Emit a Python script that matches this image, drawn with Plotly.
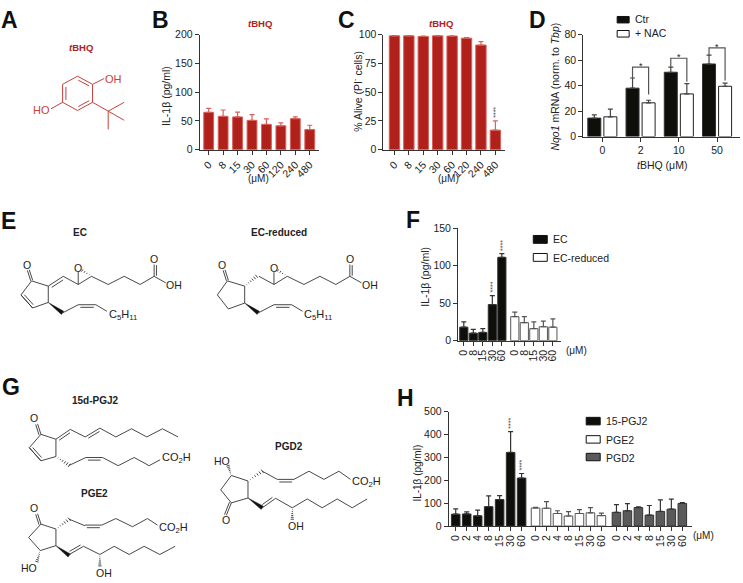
import plotly.graph_objects as go

W, H = 743, 583
FONT = "Liberation Sans"
RED = "#b0211b"
RED_EDGE = "#d9605a"
BLACK = "#0e0e0a"
GREY = "#5a5a5a"
INK = "#222222"
AXIS = "#333333"

# ---------- data ----------
doses_tbhq = ["0", "8", "15", "30", "60", "120", "240", "480"]
b_values = [65, 58, 57, 51, 44, 41.5, 54, 35]
b_upper = [72, 69, 65.5, 61, 53.5, 46.5, 57, 42.5]
c_values = [99, 99, 98.5, 99, 98.8, 97, 91, 17]
c_upper = [99.3, 99.3, 98.8, 99.3, 99.1, 97.4, 94, 25]

d_doses = ["0", "2", "10", "50"]
d_ctr = [14.5, 38, 50.5, 57]
d_ctr_upper = [17, 46, 54.5, 64]
d_nac = [15.5, 26.5, 33.5, 39.5]
d_nac_upper = [21.5, 28.5, 41.5, 42]
d_bracket_top = [54.6, 61.5, 69.7]
d_bracket_left = [46, 54.5, 64]
d_bracket_right = [33, 43, 44]

f_doses = ["0", "8", "15", "30", "60"]
f_ec = [18, 10, 11, 48, 111]
f_ec_upper = [25, 15, 16, 60, 116]
f_red = [32, 24, 16, 18.5, 18]
f_red_upper = [38, 32, 25, 26, 29]

h_doses = ["0", "2", "4", "8", "15", "30", "60"]
h_pgj = [52, 53, 45, 85, 116, 322, 210]
h_pgj_upper = [75, 62, 70, 132, 133, 413, 230]
h_pge = [79, 78, 55, 44, 55, 58, 46]
h_pge_upper = [82, 107, 67, 63, 72, 81, 57]
h_pgd = [60, 67, 81, 48, 64, 74, 99]
h_pgd_upper = [94, 98, 84, 90, 115, 118, 103]


def X(px):
    return px / W


def Y(py):
    return 1 - py / H


fig = go.Figure()
shapes = []
annos = []


def text(x, y, s, size=10.5, color=INK, bold=False, angle=0, xanchor="center", yanchor="middle"):
    if bold:
        s = "<b>" + s + "</b>"
    annos.append(dict(x=X(x), y=Y(y), xref="paper", yref="paper", text=s, showarrow=False,
                      font=dict(family=FONT, size=size, color=color), textangle=angle,
                      xanchor=xanchor, yanchor=yanchor, borderpad=0, borderwidth=0))


def setup_axes(n, xpx, ypx, xrange, yrange, tickvals, ticktext, yticks, angle=0, tfs=10.5):
    suffix = "" if n == 1 else str(n)
    common = dict(showline=True, linecolor=AXIS, linewidth=1, ticks="outside", ticklen=4,
                  tickwidth=1, tickcolor=AXIS, showgrid=False, zeroline=False,
                  tickfont=dict(family=FONT, size=tfs, color=INK), fixedrange=True)
    fig.update_layout(**{
        "xaxis" + suffix: dict(domain=[X(xpx[0]), X(xpx[1])], range=xrange, anchor="y" + suffix,
                               tickmode="array", tickvals=tickvals, ticktext=ticktext,
                               tickangle=angle, **common),
        "yaxis" + suffix: dict(domain=[Y(ypx[1]), Y(ypx[0])], range=yrange, anchor="x" + suffix,
                               tickmode="array", tickvals=yticks, **common),
    })


def bars(n, xs, vals, uppers, fill, edge, err, width, edge_w=1):
    suffix = "" if n == 1 else str(n)
    fig.add_trace(go.Bar(
        x=xs, y=vals, width=width, xaxis="x" + suffix, yaxis="y" + suffix, showlegend=False,
        marker=dict(color=fill, line=dict(color=edge, width=edge_w)),
        error_y=dict(type="data", symmetric=False,
                     array=[u - v for u, v in zip(uppers, vals)],
                     arrayminus=[0] * len(vals), color=err, thickness=1.2, width=2.5),
    ))


def stars(n, x, y, s="****"):
    suffix = "" if n == 1 else str(n)
    annos.append(dict(x=x, y=y, xref="x" + suffix, yref="y" + suffix, text=s, showarrow=False,
                      textangle=-90, yanchor="bottom", xanchor="center", yshift=1,
                      font=dict(family=FONT, size=7, color="#444444")))


def swatch(x0, x1, y0, y1, fill, line="#111111"):
    shapes.append(dict(type="rect", xref="paper", yref="paper", x0=X(x0), x1=X(x1), y0=Y(y0), y1=Y(y1),
                       fillcolor=fill, line=dict(color=line, width=1)))


# ---------- panel B ----------
setup_axes(1, (199, 318), (29.3, 146.7), [-0.62, 7.61], [0, 200],
           list(range(8)), doses_tbhq, [0, 50, 100, 150, 200], angle=-45)
bars(1, list(range(8)), b_values, b_upper, RED, RED_EDGE, RED_EDGE, 0.68)

# ---------- panel C ----------
setup_axes(2, (383, 504.7), (29.3, 146.7), [-0.76, 7.67], [0, 100],
           list(range(8)), doses_tbhq, [0, 25, 50, 75, 100], angle=-45)
bars(2, list(range(8)), c_values, c_upper, RED, RED_EDGE, RED_EDGE, 0.72)
stars(2, 7, c_upper[7])

# ---------- panel D ----------
d_idx = list(range(4))
pair = 0.21
setup_axes(3, (583, 740), (29.3, 133.3), [-0.5, 3.6], [0, 80],
           d_idx, d_doses, [0, 20, 40, 60, 80])
bars(3, [i - pair for i in d_idx], d_ctr, d_ctr_upper, BLACK, "#333333", "#444444", 0.34)
bars(3, [i + pair for i in d_idx], d_nac, d_nac_upper, "white", "#222222", "#444444", 0.34)
for g, (top, left, right) in enumerate(zip(d_bracket_top, d_bracket_left, d_bracket_right), start=1):
    xl, xr = g - pair, g + pair
    shapes.append(dict(type="path", xref="x3", yref="y3",
                       path=f"M {xl} {left} L {xl} {top} L {xr} {top} L {xr} {right}",
                       line=dict(color="#555555", width=1.2)))
    annos.append(dict(x=g, y=top, xref="x3", yref="y3", text="*", showarrow=False, yanchor="middle",
                      yshift=1, font=dict(family=FONT, size=9, color=INK)))

# ---------- panel F ----------
f_x1 = list(range(5))
f_x2 = [i + 5.36 for i in range(5)]
setup_axes(4, (457.7, 561), (226.7, 341.7), [-0.6, 10.24], [0, 150],
           f_x1 + f_x2, f_doses + f_doses, [0, 50, 100, 150], angle=-90)
bars(4, f_x1, f_ec, f_ec_upper, BLACK, "#333333", "#333333", 0.86)
bars(4, f_x2, f_red, f_red_upper, "white", "#555555", "#555555", 0.86)
stars(4, f_x1[3], f_ec_upper[3])
stars(4, f_x1[4], f_ec_upper[4])

# ---------- panel H ----------
h_x1 = list(range(7))
h_x2 = [i + 7.27 for i in range(7)]
h_x3 = [i + 14.64 for i in range(7)]
setup_axes(5, (448.3, 691.7), (414.3, 531), [-0.64, 21.5], [0, 500],
           h_x1 + h_x2 + h_x3, h_doses * 3, [0, 100, 200, 300, 400, 500], angle=-90)
bars(5, h_x1, h_pgj, h_pgj_upper, BLACK, "#333333", "#333333", 0.78)
bars(5, h_x2, h_pge, h_pge_upper, "white", "#555555", "#555555", 0.78)
bars(5, h_x3, h_pgd, h_pgd_upper, GREY, "#333333", "#333333", 0.78)
stars(5, h_x1[5], h_pgj_upper[5])
stars(5, h_x1[6], h_pgj_upper[6])

# ---------- panel letters ----------
for letter, x, y in [("A", 9, 14), ("B", 160, 14), ("C", 346, 14), ("D", 537, 14),
                     ("E", 8, 220), ("F", 413, 219), ("G", 10, 389), ("H", 405, 400)]:
    text(x, y, letter, size=23, color="#111111", bold=True)

# ---------- axis texts ----------
text(259, 18, "<i>t</i>BHQ", size=9.5, color=RED, bold=True)
text(441, 18, "<i>t</i>BHQ", size=9.5, color=RED, bold=True)
text(165, 92, "IL-1β (pg/ml)", angle=-90)
text(356, 87, "% Alive (PI<sup>-</sup> cells)", angle=-90)
text(555, 82, "<i>Nqo1</i> mRNA (norm. to <i>Tbp</i>)", angle=-90)
text(425, 276, "IL-1β (pg/ml)", angle=-90)
text(417, 477, "IL-1β (pg/ml)", angle=-90, size=10)
text(258, 176, "(μM)", size=10)
text(448, 176, "(μM)", size=10)
text(662, 162, "<i>t</i>BHQ (μM)")
text(576, 352, "(μM)", size=10)
text(703, 541, "(μM)", size=10)

# ---------- legends ----------
swatch(617, 629, 10.7, 17.3, BLACK)
text(635, 13.3, "Ctr", xanchor="left")
swatch(617, 629, 25, 31.7, "white")
text(635, 27.7, "+ NAC", xanchor="left")
swatch(533, 547, 234.3, 242.3, BLACK)
text(552.7, 238, "EC", xanchor="left")
swatch(533, 547, 252.7, 260.7, "white")
text(552.7, 257, "EC-reduced", xanchor="left")
swatch(586, 600, 420, 427.7, BLACK)
text(605.7, 423.7, "15-PGJ2", xanchor="left")
swatch(586, 600, 438.7, 446.3, "white")
text(605.7, 443, "PGE2", xanchor="left")
swatch(586, 600, 456.7, 464.3, GREY)
text(605.7, 461, "PGD2", xanchor="left")


# ---------- chemical structures (drawn as page-space line art; inputs are zoomed px) ----------
class Mol:
    def __init__(self, ox, oy, color="#333333", lw=0.9):
        self.ox, self.oy, self.color, self.lw = ox, oy, color, lw

    def p(self, x, y):
        return (self.ox + x / 3, self.oy + y / 3)

    def line(self, *pts):
        path = ""
        for i, (x, y) in enumerate(pts):
            px, py = self.p(x, y)
            path += f"{'M' if i == 0 else 'L'} {X(px):.5f} {Y(py):.5f} "
        shapes.append(dict(type="path", xref="paper", yref="paper", path=path,
                           line=dict(color=self.color, width=self.lw)))

    def dbl(self, a, b, side=1, gap=9, shrink=0.12):
        self.line(a, b)
        dx, dy = b[0] - a[0], b[1] - a[1]
        n = (dx * dx + dy * dy) ** 0.5
        ux, uy = -dy / n * side * gap, dx / n * side * gap
        self.line((a[0] + dx * shrink + ux, a[1] + dy * shrink + uy),
                  (b[0] - dx * shrink + ux, b[1] - dy * shrink + uy))

    def wedge(self, a, b, w=6):
        dx, dy = b[0] - a[0], b[1] - a[1]
        n = (dx * dx + dy * dy) ** 0.5
        ux, uy = -dy / n * w, dx / n * w
        pts = [a, (b[0] + ux, b[1] + uy), (b[0] - ux, b[1] - uy)]
        path = ""
        for i, (x, y) in enumerate(pts):
            px, py = self.p(x, y)
            path += f"{'M' if i == 0 else 'L'} {X(px):.5f} {Y(py):.5f} "
        shapes.append(dict(type="path", xref="paper", yref="paper", path=path + "Z",
                           fillcolor="#111111", line=dict(color="#111111", width=0.4)))

    def hash(self, a, b, w=6, k=6):
        dx, dy = b[0] - a[0], b[1] - a[1]
        n = (dx * dx + dy * dy) ** 0.5
        ux, uy = -dy / n * w, dx / n * w
        for i in range(1, k + 1):
            t = i / k
            cx, cy = a[0] + dx * t, a[1] + dy * t
            self.line((cx + ux * t, cy + uy * t), (cx - ux * t, cy - uy * t))

    def label(self, x, y, s, size=10.5, color=None, anchor="center"):
        px, py = self.p(x, y)
        text(px, py, s, size=size, color=color or "#222222", xanchor=anchor)


# A: tBHQ
RED_LINE = "#c8413b"
a = Mol(0, 0, RED_LINE, 1)
a.line((230, 215), (275, 240), (275, 295), (230, 320), (185, 295), (185, 240), (230, 215))
a.line((195, 248), (195, 288))
a.line((232, 227), (265, 245))
a.line((232, 308), (265, 290))
a.line((275, 240), (310, 222))
a.line((185, 295), (150, 315))
a.line((275, 295), (322, 322))
a.line((322, 322), (370, 295))
a.line((322, 322), (370, 350))
a.line((322, 322), (322, 378))
a.label(338, 223, "OH", color=RED_LINE, size=11)
a.label(123, 320, "HO", color=RED_LINE, size=11)
text(80, 42, "<i>t</i>BHQ", size=9.5, color=RED, bold=True)


def epoxy_chain(m, dx):
    m.line((187 + dx, 258), (232 + dx, 283))
    m.line((232 + dx, 283), (272 + dx, 258), (322 + dx, 283), (370 + dx, 258), (418 + dx, 283), (460 + dx, 258))
    m.line((232 + dx, 283), (232 + dx, 245))
    m.hash((272 + dx, 258), (244 + dx, 240), w=4, k=4)
    m.label(232 + dx, 232, "O")
    m.dbl((460 + dx, 258), (460 + dx, 222), side=1, gap=7, shrink=0.05)
    m.label(460 + dx, 206, "O")
    m.line((460 + dx, 258), (495 + dx, 278))
    m.label(520 + dx, 285, "OH")
    m.line((185 + dx, 370), (232 + dx, 345))
    m.dbl((232 + dx, 345), (285 + dx, 345), side=1, gap=8)
    m.line((285 + dx, 345), (318 + dx, 365))
    m.label(365 + dx, 376, "C<sub>5</sub>H<sub>11</sub>", size=11)


# E: EC
e = Mol(0, 190)
e.line((92, 272), (142, 288), (142, 338), (95, 355), (60, 315), (92, 272))
e.dbl((95, 355), (60, 315), side=1, gap=8)
e.dbl((85, 238), (95, 270), side=1, gap=6, shrink=0)
e.label(77, 222, "O")
e.dbl((142, 288), (187, 258), side=1, gap=9)
e.wedge((142, 338), (185, 370))
epoxy_chain(e, 0)
text(79, 231, "EC", size=10, bold=True)

# E: EC-reduced
r = Mol(0, 190)
r.line((680, 272), (732, 288), (732, 340), (683, 358), (650, 315), (680, 272))
r.dbl((673, 238), (683, 270), side=1, gap=6, shrink=0)
r.label(665, 222, "O")
r.hash((732, 288), (768, 258))
r.wedge((732, 340), (773, 370))
epoxy_chain(r, 588)
text(278, 231, "EC-reduced", size=10, bold=True)

# G: 15d-PGJ2
g = Mol(0, 380)
g.line((120, 172), (165, 187), (165, 240), (120, 253), (85, 213), (120, 172))
g.dbl((120, 253), (85, 213), side=1, gap=8)
g.dbl((110, 140), (120, 172), side=1, gap=6, shrink=0)
g.label(100, 122, "O")
g.dbl((165, 187), (208, 157), side=1, gap=8)
g.line((208, 157), (253, 180))
g.dbl((253, 180), (297, 153), side=1, gap=8)
g.line((297, 153), (345, 180), (392, 155), (438, 180), (485, 155), (532, 180))
g.hash((165, 240), (205, 267))
g.line((205, 267), (255, 243))
g.dbl((255, 243), (305, 243), side=1, gap=8)
g.line((305, 243), (352, 268), (400, 243), (445, 268), (478, 250))
g.label(527, 246, "CO<sub>2</sub>H", size=11)
text(94.5, 403, "15d-PGJ2", size=10, bold=True)

# G: PGE2
g.line((120, 447), (165, 462), (165, 513), (118, 528), (83, 488), (120, 447))
g.dbl((110, 415), (120, 447), side=1, gap=6, shrink=0)
g.label(98, 397, "O")
g.hash((165, 462), (205, 432))
g.line((205, 432), (252, 452))
g.dbl((252, 450), (303, 450), side=1, gap=8)
g.line((303, 450), (345, 430), (395, 455), (440, 430), (470, 450))
g.label(517, 460, "CO<sub>2</sub>H", size=11)
g.wedge((165, 513), (205, 543))
g.dbl((205, 540), (248, 515), side=-1, gap=8)
g.line((248, 515), (297, 540), (340, 515), (385, 540), (430, 515), (477, 540), (523, 515))
g.hash((297, 540), (297, 575), w=5)
g.label(310, 596, "OH")
g.hash((118, 528), (108, 562), w=5)
g.label(85, 580, "HO")
text(94, 498, "PGE2", size=10, bold=True)

# G: PGD2
g.line((692, 298), (742, 315), (742, 367), (692, 382), (660, 342), (692, 298))
g.hash((692, 298), (682, 268), w=5)
g.label(665, 253, "HO")
g.dbl((692, 382), (677, 420), side=1, gap=6, shrink=0)
g.label(675, 435, "O")
g.hash((742, 315), (785, 285))
g.line((785, 285), (830, 310))
g.dbl((830, 310), (880, 310), side=1, gap=8)
g.line((880, 310), (925, 285), (970, 310), (1015, 285), (1050, 310))
g.label(1098, 317, "CO<sub>2</sub>H", size=11)
g.wedge((742, 367), (785, 397))
g.dbl((785, 397), (825, 368), side=-1, gap=8)
g.line((825, 368), (875, 397), (920, 370), (965, 397), (1010, 370), (1055, 397), (1100, 370))
g.hash((875, 397), (875, 432), w=5)
g.label(885, 452, "OH")
text(288, 450, "PGD2", size=10, bold=True)

fig.update_layout(width=W, height=H, margin=dict(l=0, r=0, t=0, b=0), autosize=False,
                  paper_bgcolor="white", plot_bgcolor="white", barmode="overlay",
                  showlegend=False, shapes=shapes, annotations=annos,
                  font=dict(family=FONT, color=INK))
fig.write_html("out.html", config=dict(displayModeBar=False),
               post_script="document.body.style.margin='0';document.body.style.overflow='hidden';")
